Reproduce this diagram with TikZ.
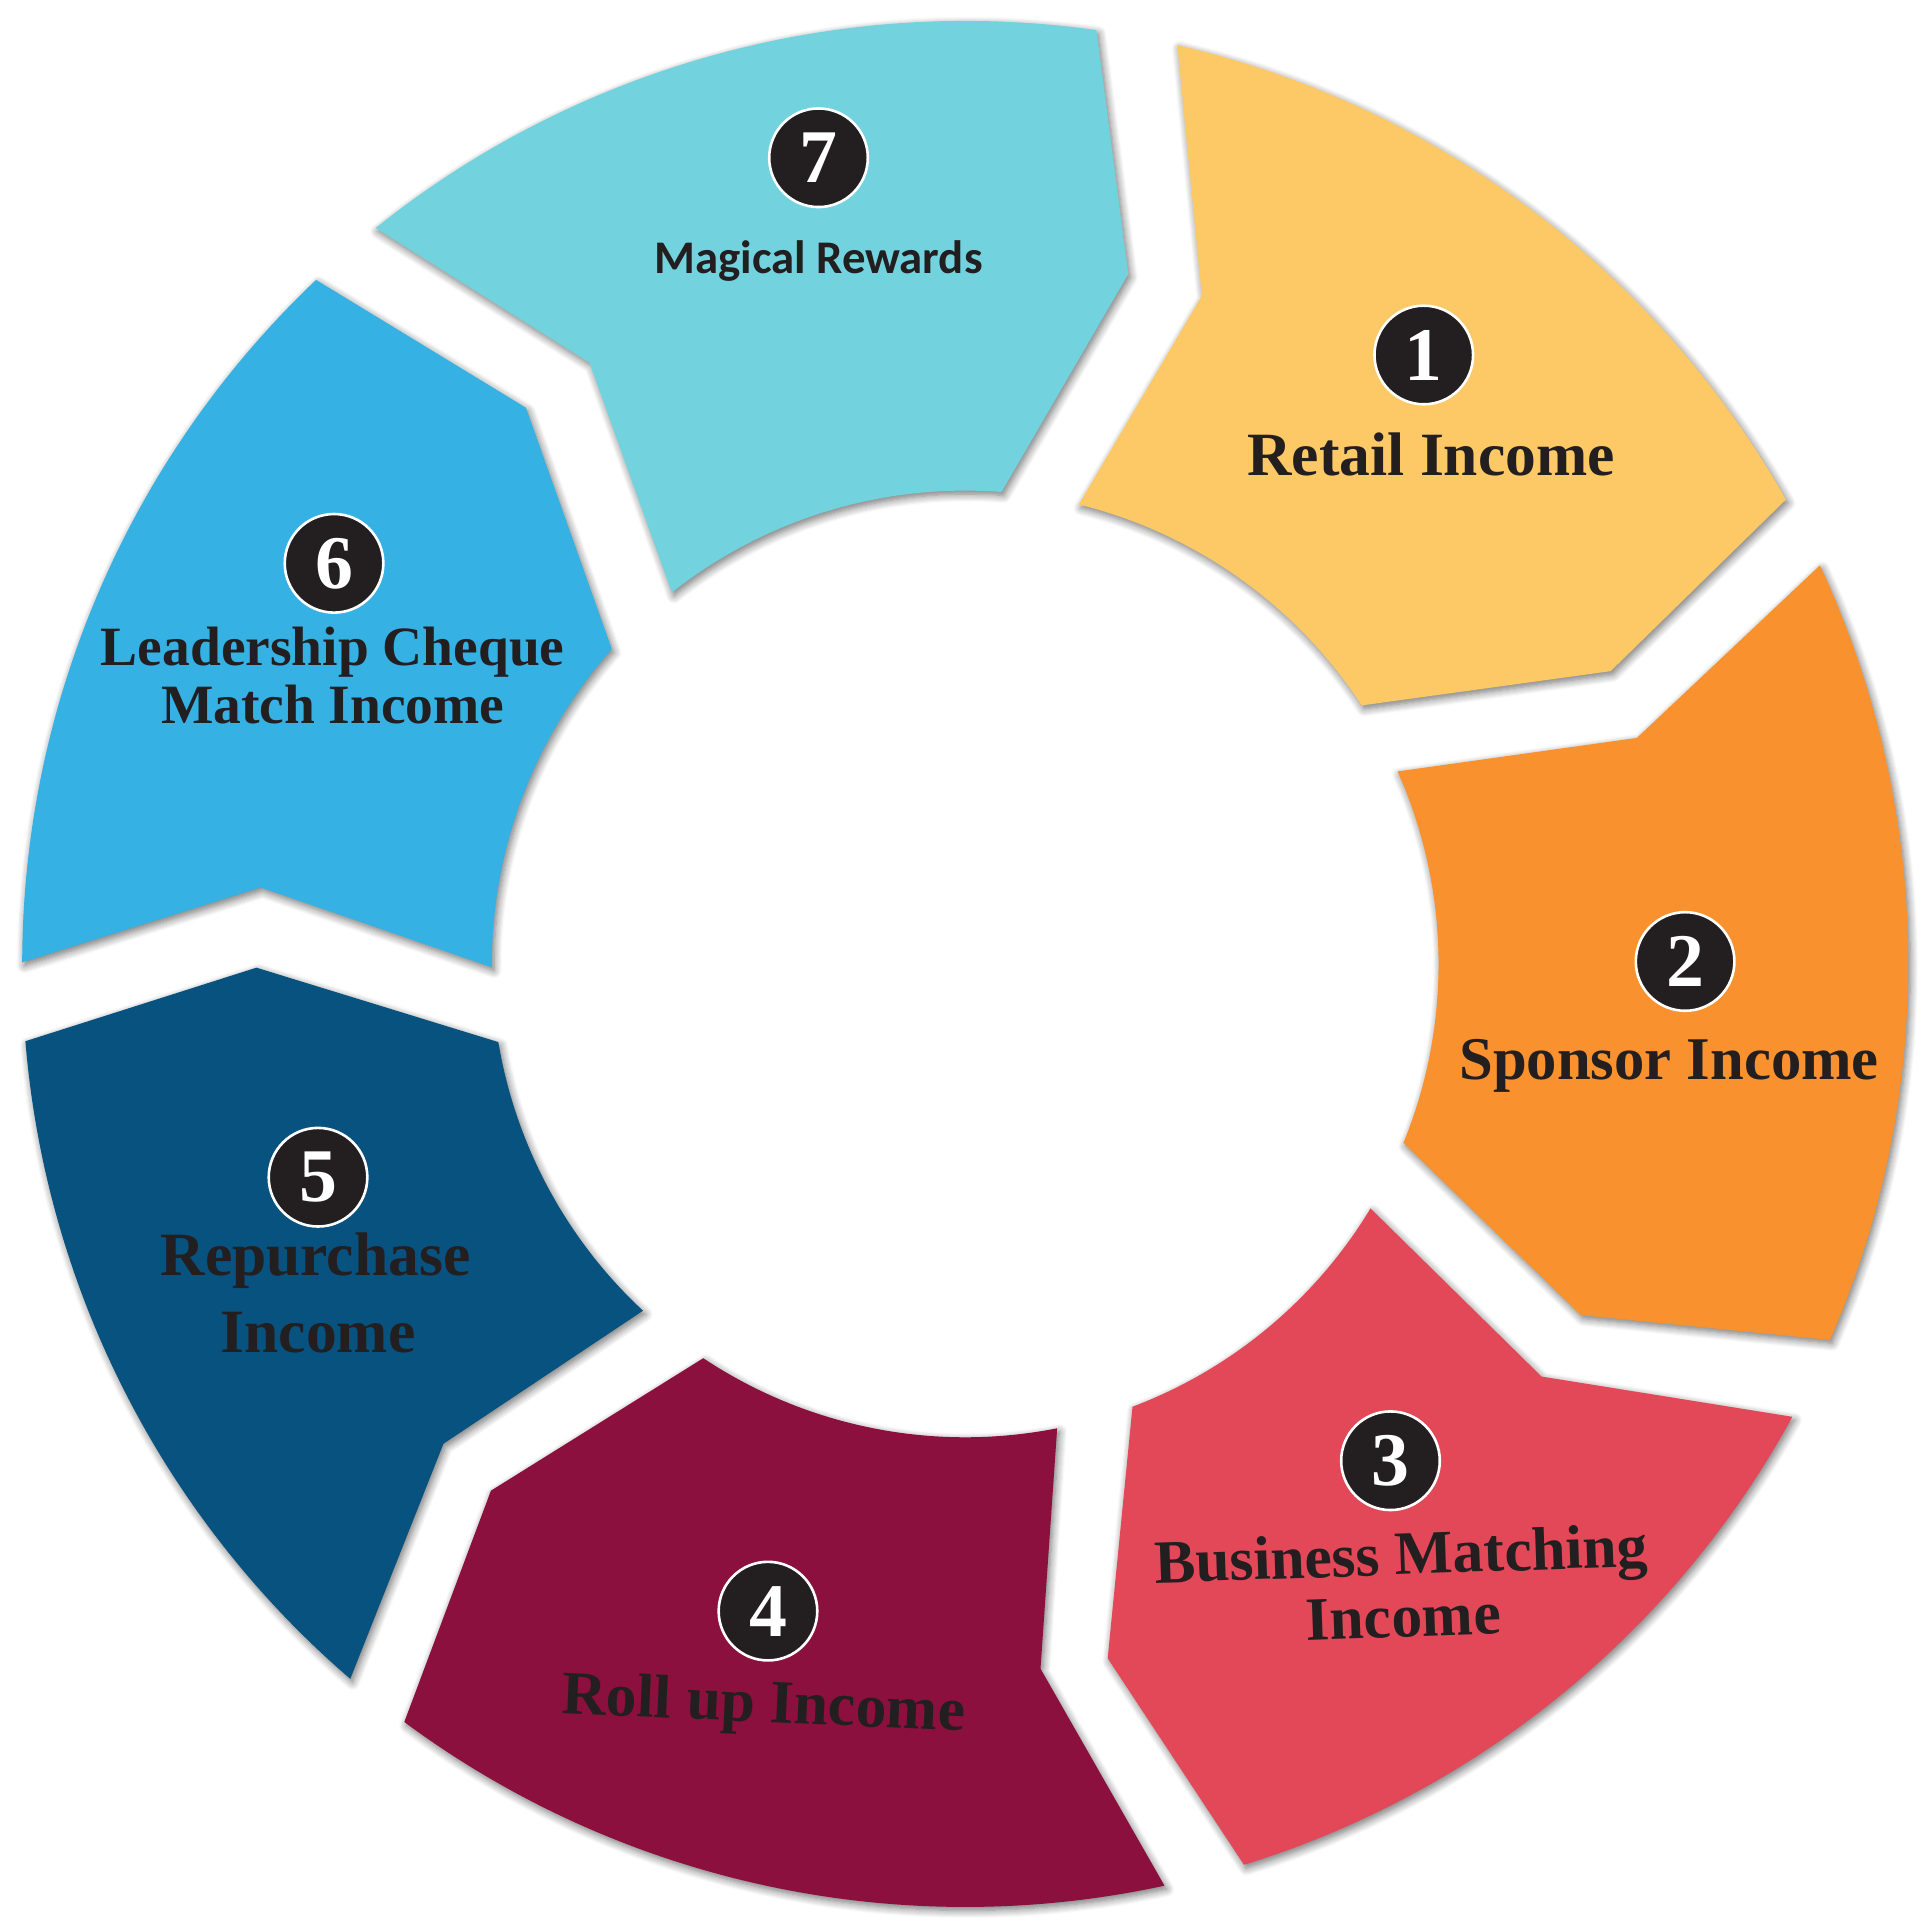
\documentclass[tikz,border=0pt]{standalone}
\usepackage{fontspec}
\setmainfont{Liberation Serif}
\newfontfamily\rewardfont{Carlito}
\usetikzlibrary{shadows.blur}

\definecolor{ink}{HTML}{231F20}
\definecolor{retail}{HTML}{FDC966}
\definecolor{sponsor}{HTML}{F9922E}
\definecolor{business}{HTML}{E24857}
\definecolor{rollup}{HTML}{8B103D}
\definecolor{repurchase}{HTML}{085280}
\definecolor{leader}{HTML}{35B1E3}
\definecolor{magical}{HTML}{72D3DF}

\begin{document}
\begin{tikzpicture}
	\useasboundingbox (-7.83,-7.78) rectangle (7.77,7.82);

	\begin{scope}[piece/.style={blur shadow={shadow xshift=0.5pt,shadow yshift=-0.8pt,
			shadow blur radius=1.8pt,shadow blur steps=8,shadow opacity=55}}]
		% 1 Retail
		\fill[piece,retail] (77:7.65) arc[start angle=77,end angle=29.5,radius=7.65]
			-- (24.4:5.75) -- (33.1:3.84) arc[start angle=33.1,end angle=76.1,radius=3.84]
			-- (70.5:5.75) -- cycle;
		% 2 Sponsor
		\fill[piece,sponsor] (25:7.65) arc[start angle=25,end angle=-23.5,radius=7.65]
			-- (-29.7:5.75) -- (-22.2:3.84) arc[start angle=-22.2,end angle=24,radius=3.84]
			-- (18.6:5.75) -- cycle;
		% 3 Business Matching
		\fill[piece,business] (331.3:7.65) arc[start angle=331.3,end angle=287.2,radius=7.65]
			-- (281.6:5.75) -- (290.7:3.84) arc[start angle=290.7,end angle=328.9,radius=3.84]
			-- (324.4:5.75) -- cycle;
		% 4 Roll up
		\fill[piece,rollup] (282.2:7.65) arc[start angle=282.2,end angle=233.5,radius=7.65]
			-- (228:5.75) -- (236.4:3.84) arc[start angle=236.4,end angle=281.2,radius=3.84]
			-- (276.1:5.75) -- cycle;
		% 5 Repurchase
		\fill[piece,repurchase] (229.3:7.65) arc[start angle=229.3,end angle=184.7,radius=7.65]
			-- (180.3:5.75) -- (189.5:3.84) arc[start angle=189.5,end angle=227.1,radius=3.84]
			-- (222.6:5.75) -- cycle;
		% 6 Leadership
		\fill[piece,leader] (179.9:7.65) arc[start angle=179.9,end angle=133.5,radius=7.65]
			-- (128.3:5.75) -- (138.3:3.84) arc[start angle=138.3,end angle=180.4,radius=3.84]
			-- (173.8:5.75) -- cycle;
		% 7 Magical
		\fill[piece,magical] (128.7:7.65) arc[start angle=128.7,end angle=82,radius=7.65]
			-- (76.7:5.75) -- (85.6:3.84) arc[start angle=85.6,end angle=128.3,radius=3.84]
			-- (122:5.75) -- cycle;
	\end{scope}

	\begin{scope}[every node/.style={circle,draw=white,line width=0.6pt,fill=ink,
			text=white,minimum size=0.8cm,inner sep=0pt,
			font=\fontsize{17.5}{17.5}\selectfont\bfseries}]
		\node (n1) at (3.72,4.94) {1};
		\node (n2) at (5.84,0.02) {2};
		\node (n3) at (3.45,-4.03) {3};
		\node (n4) at (-1.60,-5.25) {4};
		\node (n5) at (-5.25,-1.73) {5};
		\node (n6) at (-5.12,3.25) {6};
		\node (n7) at (-1.19,6.54) {7};
	\end{scope}

	\begin{scope}[every node/.style={text=ink,anchor=base,inner sep=0pt,
			font=\fontsize{14.2}{16}\selectfont\bfseries}]
		\node (l1) at (3.78,3.96) {Retail Income};
		\node[font=\fontsize{14}{16}\selectfont\bfseries] (l2) at (5.71,-0.94) {Sponsor Income};
		\node[rotate=2,align=center,font=\fontsize{14.2}{14.4}\selectfont\bfseries] (l3) at (3.56,-5.46)
			{Business Matching\\Income};
		\node[rotate=-2.5] (l4) at (-1.64,-6.15) {Roll up Income};
		\node (l5a) at (-5.27,-2.53) {Repurchase};
		\node (l5b) at (-5.25,-3.15) {Income};
		\node[font=\fontsize{12.8}{15}\selectfont\bfseries] (l6a) at (-5.13,2.42) {Leadership Cheque};
		\node[font=\fontsize{12.8}{15}\selectfont\bfseries] (l6b) at (-5.13,1.95) {Match Income};
		\node[font=\rewardfont\fontsize{10.8}{13}\selectfont\bfseries] (l7) at (-1.19,5.60) {Magical Rewards};
	\end{scope}
\end{tikzpicture}
\end{document}
